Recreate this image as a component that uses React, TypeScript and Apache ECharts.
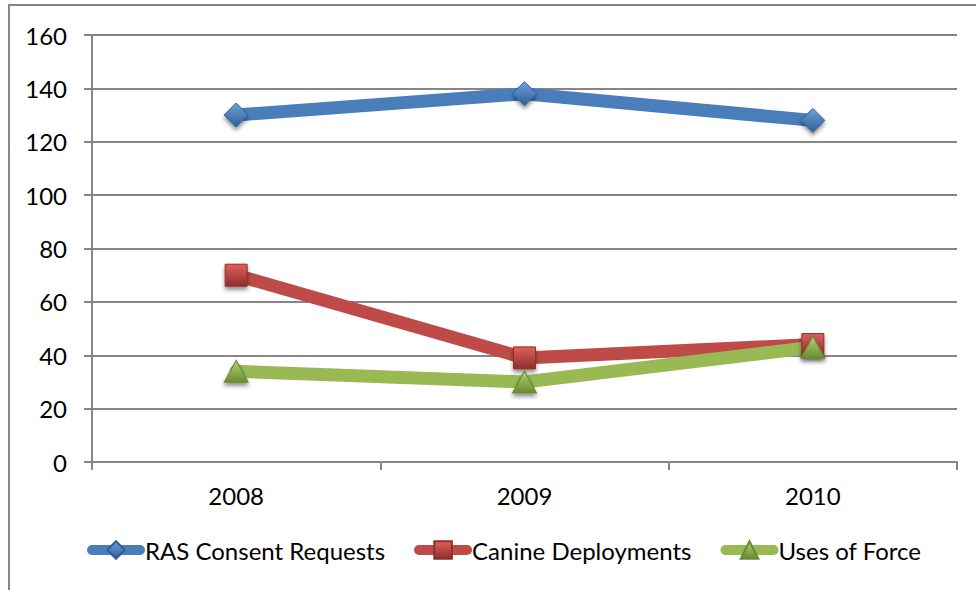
import React, { useEffect, useRef } from "react";
import * as echarts from "echarts";

// Yearly counts per measure
const years = ["2008", "2009", "2010"];
const rasConsentRequests = [130, 138, 128];
const canineDeployments = [70, 39, 44];
const usesOfForce = [34, 30, 43];
const seriesNames = ["RAS Consent Requests", "Canine Deployments", "Uses of Force"];

const FONT = "Lato, 'Liberation Sans', sans-serif";
const GRID_GRAY = "#868686";

function bevel(light: string, dark: string) {
  return new echarts.graphic.LinearGradient(0, 0, 0, 1, [
    { offset: 0, color: light },
    { offset: 1, color: dark },
  ]);
}

function makeSeries(
  name: string,
  data: number[],
  color: string,
  light: string,
  dark: string,
  symbol: string,
  symbolSize: number | number[]
) {
  return {
    name,
    type: "line",
    data,
    symbol,
    symbolSize,
    showSymbol: true,
    lineStyle: { color, width: 13, cap: "round", join: "round" },
    itemStyle: {
      color: bevel(light, dark),
      borderColor: dark,
      borderWidth: 1,
      shadowColor: "rgba(0,0,0,0.45)",
      shadowBlur: 4,
      shadowOffsetY: 3,
    },
    emphasis: { disabled: true },
  };
}

export default function App() {
  const ref = useRef<HTMLDivElement>(null);

  useEffect(() => {
    if (!ref.current) return;
    const chart = echarts.init(ref.current, undefined, { renderer: "svg" });
    chart.setOption({
      animation: false,
      backgroundColor: "#ffffff",
      color: ["#4A7EBB", "#BE4B48", "#98B954"],
      textStyle: { fontFamily: FONT },
      graphic: [
        {
          type: "rect",
          shape: { x: 9, y: 5, width: 1100, height: 800 },
          style: { fill: "none", stroke: GRID_GRAY, lineWidth: 2 },
          silent: true,
          z: -10,
        },
      ],
      grid: { left: 92, right: 19, top: 35, bottom: 128 },
      xAxis: {
        type: "category",
        data: years,
        boundaryGap: true,
        axisLine: { show: true, lineStyle: { color: GRID_GRAY, width: 2 } },
        axisTick: { show: true, alignWithLabel: false, length: 8, lineStyle: { color: GRID_GRAY, width: 2 } },
        axisLabel: { color: "#000", fontSize: 24, fontFamily: FONT, margin: 21 },
        splitLine: { show: false },
      },
      yAxis: {
        type: "value",
        min: 0,
        max: 160,
        interval: 20,
        axisLine: { show: true, lineStyle: { color: GRID_GRAY, width: 2 } },
        axisTick: { show: true, length: 8, lineStyle: { color: GRID_GRAY, width: 2 } },
        axisLabel: { color: "#000", fontSize: 24, fontFamily: FONT, margin: 25 },
        splitLine: { show: true, lineStyle: { color: GRID_GRAY, width: 2 } },
      },
      legend: {
        data: seriesNames,
        left: 87,
        top: 538,
        padding: 0,
        itemWidth: 48,
        itemHeight: 22,
        itemGap: 29,
        textStyle: { color: "#000", fontSize: 24, fontFamily: FONT },
        lineStyle: { width: 10, cap: "round" },
      },
      series: [
        makeSeries(seriesNames[0], rasConsentRequests, "#4A7EBB", "#6f9fd8", "#2f5f98", "diamond", [24, 24]),
        makeSeries(seriesNames[1], canineDeployments, "#BE4B48", "#e0605c", "#8f2e2b", "rect", 22),
        makeSeries(seriesNames[2], usesOfForce, "#98B954", "#b5d477", "#6a8a30", "triangle", [24, 22]),
      ],
    });
    return () => chart.dispose();
  }, []);

  return (
    <div
      ref={ref}
      style={{ position: "fixed", left: 0, top: 0, width: 976, height: 590 }}
    />
  );
}
